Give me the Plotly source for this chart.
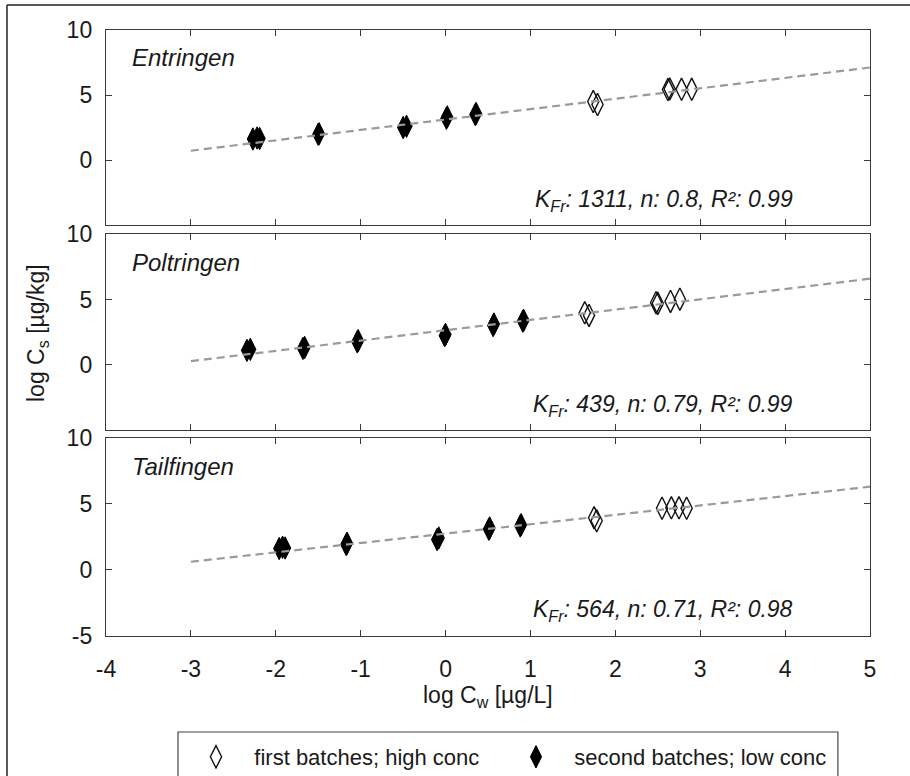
import numpy as np
import plotly.graph_objects as go
from plotly.subplots import make_subplots

# Freundlich sorption isotherms, three soils
sites = ["Entringen", "Poltringen", "Tailfingen"]
k_fr = [1311, 439, 564]
n_fr = [0.8, 0.79, 0.71]
r_sq = [0.99, 0.99, 0.98]

# first batches; high concentration (log Cw, log Cs)
ent_high_x = [1.74, 1.79, 2.62, 2.64, 2.78, 2.90]
ent_high_y = [4.50, 4.27, 5.42, 5.46, 5.44, 5.44]
pol_high_x = [1.64, 1.69, 2.48, 2.50, 2.65, 2.76]
pol_high_y = [3.98, 3.78, 4.75, 4.70, 4.85, 5.02]
tai_high_x = [1.75, 1.78, 2.55, 2.66, 2.75, 2.84]
tai_high_y = [3.95, 3.72, 4.67, 4.70, 4.70, 4.67]

# second batches; low concentration (log Cw, log Cs)
ent_low_x = [-2.27, -2.22, -2.19, -1.50, -1.49, -0.50, -0.46, 0.01, 0.02, 0.35, 0.36]
ent_low_y = [1.62, 1.70, 1.66, 1.98, 2.02, 2.50, 2.60, 3.22, 3.32, 3.50, 3.58]
pol_low_x = [-2.34, -2.30, -1.68, -1.66, -1.04, -1.03, -0.01, 0.00, 0.56, 0.57, 0.91, 0.92]
pol_low_y = [1.10, 1.18, 1.25, 1.32, 1.75, 1.84, 2.22, 2.32, 3.00, 3.12, 3.34, 3.40]
tai_low_x = [-1.96, -1.92, -1.89, -1.17, -1.16, -0.10, -0.08, 0.51, 0.52, 0.88, 0.89]
tai_low_y = [1.62, 1.72, 1.66, 1.92, 2.02, 2.30, 2.42, 3.08, 3.18, 3.33, 3.42]

high_x = [ent_high_x, pol_high_x, tai_high_x]
high_y = [ent_high_y, pol_high_y, tai_high_y]
low_x = [ent_low_x, pol_low_x, tai_low_x]
low_y = [ent_low_y, pol_low_y, tai_low_y]

# range of the fitted isotherm (log Cw)
fit_x = [-3, 5]

x_ticks = [-4, -3, -2, -1, 0, 1, 2, 3, 4, 5]
x_tick_text = ["-4", "-3", "-2", "-1", "0", "1", "2", "3", "4", "5"]
y_ticks_top = [0, 5, 10]
y_tick_text_top = ["0", "5", "10"]
y_ticks_bottom = [-5, 0, 5, 10]
y_tick_text_bottom = ["-5", "0", "5", "10"]

FONT = "Liberation Sans, Arial, sans-serif"
AX = "#3a3a3a"
FS = 23
NB = "\u00a0"

fig = make_subplots(rows=3, cols=1, shared_xaxes=True)

for i in range(3):
    row = i + 1
    fig.add_trace(go.Scatter(
        x=high_x[i], y=high_y[i], mode="markers",
        name=NB * 3 + "first batches; high conc",
        marker=dict(symbol="diamond-tall-open", size=16, color="#111",
                    line=dict(width=1.4, color="#111")),
        showlegend=(i == 0), legendrank=1,
    ), row=row, col=1)
    fig.add_trace(go.Scatter(
        x=low_x[i], y=low_y[i], mode="markers",
        name=NB * 3 + "second batches; low conc",
        marker=dict(symbol="diamond-tall", size=16, color="#000",
                    line=dict(width=1, color="#000")),
        showlegend=(i == 0), legendrank=2,
    ), row=row, col=1)
    fit_y = [np.log10(k_fr[i]) + n_fr[i] * xv for xv in fit_x]
    fig.add_trace(go.Scatter(
        x=fit_x, y=fit_y, mode="lines",
        line=dict(color="#9a9a9a", width=2.2, dash="8px,5px"),
        showlegend=False, hoverinfo="skip",
    ), row=row, col=1)

domains = [[0.678, 1.0], [0.340, 0.663], [0.0, 0.327]]
for i in range(3):
    row = i + 1
    if i < 2:
        fig.update_yaxes(tickvals=y_ticks_top, ticktext=y_tick_text_top, row=row, col=1)
    else:
        fig.update_yaxes(tickvals=y_ticks_bottom, ticktext=y_tick_text_bottom, row=row, col=1)
    fig.update_yaxes(domain=domains[i], range=[-5, 10], row=row, col=1)
    fig.update_xaxes(range=[-4, 5], tickvals=x_ticks, ticktext=x_tick_text,
                     row=row, col=1)

axis_style = dict(
    showline=True, linecolor=AX, linewidth=1.4, mirror="ticks",
    ticks="inside", ticklen=6, tickcolor=AX, tickwidth=1.2,
    showgrid=False, zeroline=False,
    tickfont=dict(family=FONT, size=FS, color="#1a1a1a"),
)
fig.update_xaxes(**axis_style)
fig.update_yaxes(**axis_style)
fig.update_yaxes(ticklabelstandoff=8)
fig.update_xaxes(ticklabelstandoff=12, row=3, col=1)

annotations = []
yrefs = ["y", "y2", "y3"]
xrefs = ["x", "x2", "x3"]
for i in range(3):
    annotations.append(dict(
        x=-3.72, y=7.85, xref=xrefs[i], yref=yrefs[i],
        text="<i>%s</i>" % sites[i], showarrow=False,
        xanchor="left", yanchor="middle",
        font=dict(family=FONT, size=FS + 1, color="#1a1a1a"),
    ))
    annotations.append(dict(
        x=4.12, y=-3.1, xref=xrefs[i], yref=yrefs[i],
        text="<i>K<sub>Fr</sub>: %g, n: %g, R²: %g</i>" % (k_fr[i], n_fr[i], r_sq[i]),
        showarrow=False, xanchor="right", yanchor="middle",
        font=dict(family=FONT, size=FS, color="#1a1a1a"),
    ))

annotations.append(dict(
    x=0.5, y=-0.1, xref="paper", yref="paper",
    text="log C<sub>w</sub> [µg/L]", showarrow=False,
    xanchor="center", yanchor="middle",
    font=dict(family=FONT, size=FS, color="#1a1a1a"),
))
annotations.append(dict(
    x=-0.0903, y=0.5, xref="paper", yref="paper",
    text="log C<sub>s</sub> [µg/kg]", showarrow=False, textangle=-90,
    xanchor="center", yanchor="middle",
    font=dict(family=FONT, size=FS, color="#1a1a1a"),
))

shapes = [
    # outer frame (top and left edges)
    dict(type="line", xref="paper", yref="paper",
         x0=-0.1296, y0=1.0413, x1=1.2, y1=1.0413,
         line=dict(color="#222", width=1.5)),
    dict(type="line", xref="paper", yref="paper",
         x0=-0.1296, y0=1.0413, x1=-0.1296, y1=-0.4,
         line=dict(color="#222", width=1.5)),
    # legend box
    dict(type="rect", xref="paper", yref="paper",
         x0=0.0942, y0=-0.1584, x1=0.958, y1=-0.32,
         line=dict(color="#444", width=1.2), fillcolor="rgba(0,0,0,0)"),
]

fig.update_layout(
    width=910, height=776,
    margin=dict(l=106, r=40, t=30, b=140, autoexpand=False),
    plot_bgcolor="white", paper_bgcolor="white",
    font=dict(family=FONT, size=FS, color="#1a1a1a"),
    annotations=annotations, shapes=shapes,
    showlegend=True,
    legend=dict(
        orientation="h", x=0.1178, xanchor="left",
        y=-0.165, yanchor="top",
        borderwidth=0, bgcolor="rgba(0,0,0,0)",
        font=dict(family=FONT, size=22, color="#1a1a1a"),
        entrywidth=275, entrywidthmode="pixels",
        itemsizing="trace",
    ),
)

fig.write_html("out.html")
